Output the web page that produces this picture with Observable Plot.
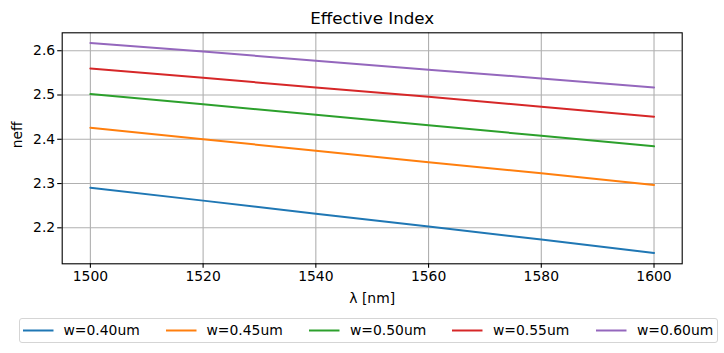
<!DOCTYPE html>
<html>
<head>
<meta charset="utf-8">
<script src="https://cdn.jsdelivr.net/npm/d3@7"></script>
<script src="https://cdn.jsdelivr.net/npm/@observablehq/plot@0.6"></script>
<style>
  html, body { margin: 0; padding: 0; background: white; }
  #wrap { position: relative; width: 724px; height: 353px; font-family: "DejaVu Sans", sans-serif; }
  #legend { position: absolute; left: 18.5px; top: 318px; width: 699px; height: 25px;
    border: 1px solid #d5d5d5; border-radius: 3px; background: rgba(255,255,255,0.8); box-sizing: border-box; }
  .item { position: absolute; top: 0; height: 23px; font-size: 13.9px; line-height: 23px; white-space: nowrap; }
  .item svg { position: absolute; top: 0; left: 0; }
</style>
</head>
<body>
<div id="wrap"></div>
<script>
const wavelengths = [1500, 1520, 1540, 1560, 1580, 1600];
const seriesNames = ["w=0.40um", "w=0.45um", "w=0.50um", "w=0.55um", "w=0.60um"];
const seriesColors = ["#1f77b4", "#ff7f0e", "#2ca02c", "#d62728", "#9467bd"];
const neff040 = [2.2907, 2.2614, 2.2320, 2.2027, 2.1734, 2.1433];
const neff045 = [2.4262, 2.4000, 2.3743, 2.3480, 2.3230, 2.2968];
const neff050 = [2.5020, 2.4790, 2.4555, 2.4314, 2.4080, 2.3840];
const neff055 = [2.5600, 2.5390, 2.5170, 2.4960, 2.4736, 2.4510];
const neff060 = [2.6174, 2.5984, 2.5774, 2.5570, 2.5375, 2.5172];
const xTicks = [1500, 1520, 1540, 1560, 1580, 1600];
const yTicks = [2.2, 2.3, 2.4, 2.5, 2.6];
const titleText = "Effective Index";
const xLabel = "λ [nm]";
const yLabel = "neff";

const allSeries = [neff040, neff045, neff050, neff055, neff060];
const data = [];
allSeries.forEach((vals, i) => {
  vals.forEach((v, j) => data.push({series: seriesNames[i], wl: wavelengths[j], neff: v}));
});

const grid = {stroke: "#b0b0b0", strokeOpacity: 1, strokeWidth: 1.1};

const chart = Plot.plot({
  width: 724,
  height: 353,
  marginTop: 32.3,
  marginBottom: 89.7,
  marginLeft: 61.7,
  marginRight: 42.3,
  style: {fontFamily: "DejaVu Sans", fontSize: "13.9px", color: "black", background: "white"},
  x: {domain: [1495, 1605]},
  y: {domain: [2.1187, 2.6405]},
  color: {domain: seriesNames, range: seriesColors},
  marks: [
    Plot.gridX(xTicks, grid),
    Plot.gridY(yTicks, grid),
    Plot.line(data, {x: "wl", y: "neff", z: "series", stroke: "series", strokeWidth: 2}),
    Plot.frame({stroke: "black", strokeWidth: 1.1}),
    Plot.axisX(xTicks, {tickSize: 4.5, tickPadding: 2.5, label: null, fontSize: 13.9, tickFormat: "d", strokeWidth: 1.1}),
    Plot.axisY(yTicks, {tickSize: 4.5, tickPadding: 2.5, label: null, fontSize: 13.9, tickFormat: ".1f", strokeWidth: 1.1}),
    Plot.text([titleText], {frameAnchor: "top", dy: -14, lineAnchor: "middle", fontSize: 16.7}),
    Plot.text([xLabel], {frameAnchor: "bottom", dy: 35, lineAnchor: "middle", fontSize: 13.9}),
    Plot.text([yLabel], {frameAnchor: "left", dx: -45, rotate: -90, lineAnchor: "middle", fontSize: 13.9})
  ]
});

const wrap = document.getElementById("wrap");
wrap.appendChild(chart);
chart.style.position = "absolute";
chart.style.left = "0";
chart.style.top = "0";

const legend = document.createElement("div");
legend.id = "legend";
const itemLefts = [3, 146, 289.5, 432.5, 576.5];
seriesNames.forEach((name, i) => {
  const it = document.createElement("div");
  it.className = "item";
  it.style.left = itemLefts[i] + "px";
  it.innerHTML = `<svg width="36" height="23"><line x1="0" x2="30.5" y1="11.5" y2="11.5" stroke="${seriesColors[i]}" stroke-width="2"/></svg><span style="position:absolute;left:41px;top:0">${name}</span>`;
  legend.appendChild(it);
});
wrap.appendChild(legend);
</script>
</body>
</html>
